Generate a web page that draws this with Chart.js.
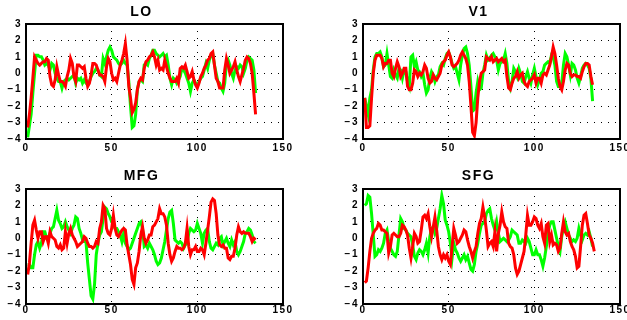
<!DOCTYPE html>
<html>
<head>
<meta charset="utf-8">
<script src="https://cdn.jsdelivr.net/npm/chart.js@4"></script>
<style>
  html, body { margin: 0; padding: 0; background: #fff; overflow: hidden; }
  body { width: 627px; height: 320px; position: relative; }
  canvas { position: absolute; }
</style>
</head>
<body>
<canvas id="lo" width="313" height="160" style="left:0;top:0"></canvas>
<canvas id="v1" width="300" height="160" style="left:337px;top:0"></canvas>
<canvas id="mfg" width="313" height="160" style="left:0;top:160px"></canvas>
<canvas id="sfg" width="300" height="160" style="left:337px;top:160px"></canvas>
<script>
"use strict";
// tick labels shared by all four panels
const xTicks = [0, 50, 100, 150];
const yTicks = [-4, -3, -2, -1, 0, 1, 2, 3];

// LO
const loGreen = [
  -3.9, -3.2, -2.5, -1.2, 0, 1.1, 1.1, 1.0, 1.0, 0.8,
  0.5, 0.6, 0.5, 0.2, 0.6, 0.5, 0, -0.3, -0.5, -0.5,
  -0.9, -0.5, -0.4, -0.3, -0.4, -0.3, -0.2, -0.1, -0.6, -0.3,
  -0.4, -0.3, -0.6, -0.4, -0.6, -0.7, -0.5, -0.2, 0, 0.1,
  0.3, 0.2, -0.1, -0.2, 0.9, 0.6, 1.0, 1.4, 1.6, 1.4,
  1.0, 0.9, 0.8, 0.6, 0.5, 0.6, 0.8, 0.6, 0.5, -0.5,
  -2.0, -3.3, -3.2, -2.5, -1.0, -0.5, -0.4, -0.5, 0.5, 0.6,
  0.5, 0.9, 1.1, 1.4, 1.4, 1.2, 1.1, 1.0, 1.1, 1.2,
  1.0, 1.1, 0.5, -0.3, -0.7, -0.3, -0.4, -0.6, -0.4, -0.2,
  0.3, 0.2, 0, -0.3, -0.6, -1.1, -0.6, -0.4, -0.6, -0.8,
  -0.5, -0.3, -0.2, 0.2, 0.6, 0.3, 0.8, 1.1, 1.2, 0.5,
  0, -0.5, -0.6, -0.9, -1.1, -0.6, 0.6, 0.8, 0.5, 0,
  -0.3, 0.2, 0.4, 0.3, 0.5, 0.4, 0, 0.3, 0.8, 1.0,
  0.9, 0.8, 0.2, -1.2
];
const loRed = [
  -3.3, -2.5, -1.5, -0.3, 1.0, 0.8, 0.6, 0.5, 0.6, 0.7,
  0.7, 0.9, 0.8, -0.2, -0.7, -0.8, -0.4, 0.4, -0.1, -0.5,
  -0.5, -0.6, -0.8, -0.2, 0.2, 0.9, 0.6, -0.2, -0.5, 0.5,
  0.5, 0.4, 0.3, 0.4, -0.3, -0.8, -0.6, -0.1, 0.6, 0.6,
  0.5, 0.2, -0.1, -0.1, -0.2, -0.5, 0.4, 0.9, 0.7, 0,
  -0.4, -0.3, -0.5, 0, 0.5, 0.8, 1.2, 1.8, 0.8, -0.8,
  -1.5, -2.4, -2.2, -1.8, -1.0, -0.5, -0.3, -0.4, 0.3, 0.7,
  0.8, 1.0, 1.1, 1.3, 1.0, 0.5, 0.8, 0.2, 0.3, 0.2,
  0.8, 0.4, 0, -0.3, -0.5, -0.5, -0.5, -0.3, -0.6, 0.3,
  0.4, 0.3, 0.5, 0.1, -0.3, -0.2, 0.1, -0.4, -0.7, -0.9,
  -0.6, -0.2, 0, 0.3, 0.5, 0.8, 0.9, 1.2, 1.3, 0.5,
  -0.3, -0.5, -0.9, -0.9, -0.9, 0.2, 0.9, 0.5, 0, 0.2,
  0.4, 0.7, 0.2, -0.2, -0.5, -0.1, 0.3, 0.8, 1.0, 0.9,
  0.6, 0, -1.2, -2.5
];

// V1
const v1Green = [
  -1.5, -2.0, -2.5, -1.5, -1.0, 0.2, 1.0, 1.2, 1.2, 1.3,
  1.0, 0.4, 0.5, 1.2, 0.5, -0.2, -0.3, 0.2, -0.1, -0.3,
  0.3, 0.2, -0.3, 0.2, 0.1, -0.5, -0.8, 1.0, 1.1, 0.4,
  0.7, 0.2, 0.1, -0.2, 0, -0.7, -1.2, -1.0, -0.3, 0.1,
  -0.1, -0.5, -0.2, -0.1, 0.4, 0.6, 0.5, 0.9, 1.2, 1.3,
  1.0, 0.6, 0.3, 0.4, 0, -0.4, 0.5, 1.1, 1.5, 1.6,
  1.2, 0.5, -0.8, -2.3, -2.2, -1.2, -0.5, -1.0, -0.9, 0,
  0.5, 1.1, 0.8, 0.9, 1.1, 1.2, 1.0, 0.8, 0.2, 0.6,
  0.7, 0.8, 1.2, 0.6, -0.5, -0.9, -0.5, 0.3, 0.1, -0.2,
  0.3, 0, -0.5, -0.6, -0.2, 0.1, -0.3, -0.6, -0.1, 0.3,
  -0.2, -0.7, -0.4, 0, 0.1, 0.5, 0.6, 0.7, 0.6, 1.1,
  1.0, 0.5, -0.5, -0.8, -0.8, -0.6, 0.5, 1.2, 1.0, 0.5,
  -0.1, 0.6, 0.5, 0.2, -0.3, -0.6, -0.2, 0.3, 0.5, 0.6,
  0.5, 0.3, -0.3, -1.7
];
const v1Red = [
  -1.5, -3.3, -3.3, -3.2, -1.5, 0, 0.8, 1.1, 1.1, 1.1,
  0.9, 0.4, 0.6, 0.6, 0.8, 0.8, 0, -0.2, 0.3, 0.7,
  0.4, -0.2, 0, 0.3, 0.3, -0.8, -1.0, -1.0, -0.6, 0.2,
  0.1, -0.2, 0, -0.1, 0.1, 0.5, 0.3, -0.3, -0.6, -0.5,
  -0.1, -0.3, -0.4, -0.2, 0, 0.5, 0.7, 0.8, 1.1, 1.3,
  1.0, 0.5, 0.4, 0.5, 0.6, 0.8, 1.1, 1.3, 1.1, 0.9,
  0.5, -0.5, -2.0, -3.6, -3.8, -3.0, -1.5, -0.5, 0, 0.1,
  0.2, 1.0, 0.9, 0.8, 1.0, 0.7, 0.8, 0.9, 0.7, 0.8,
  0.9, 0.7, 0.8, -0.2, -0.9, -1.0, -0.6, -0.3, -0.2, 0.1,
  -0.3, -0.1, 0, -0.5, -0.7, -0.8, -0.5, -0.4, -0.3, -0.1,
  -0.6, -0.3, -0.3, -0.6, -0.1, 0, -0.1, 0.2, 0.5, 1.0,
  1.6, 1.2, 0.5, -0.3, -0.8, -1.0, -0.5, 0.2, 0.6, 0.5,
  0, -0.2, -0.1, -0.1, -0.2, -0.2, -0.3, 0.1, 0.4, 0.6,
  0.6, 0.5, -0.2, -0.7
];

// MFG
const mfgGreen = [
  -1.6, -1.6, -1.8, -1.8, -1.0, -0.4, -0.2, -0.6, -0.3, 0.4,
  0.4, 0, 0, 0.3, 0.6, 0.7, 1.2, 1.7, 1.1, 0.9,
  0.6, 0.7, 1.0, 0.7, 0.5, 0.3, 0.6, 0.8, 1.3, 1.2,
  0.6, 0.3, -0.1, -0.2, -0.2, -1.5, -2.5, -3.5, -3.7, -2.8,
  -1.0, -0.3, 0.2, 0.4, 1.2, 1.9, 1.8, 1.5, 1.3, 1.0,
  0.9, 0.6, 0.6, 0.4, 0.2, -0.2, 0.3, -0.3, -0.5, -0.7,
  -0.6, -0.3, 0, 0.3, 0.6, 0.9, 1.0, 0.6, -0.5, -0.4,
  -0.6, -0.3, -0.5, -0.7, -1.0, -1.4, -1.6, -1.5, -1.2, -0.7,
  -0.2, 0.5, 1.2, 1.6, 1.7, 0.9, -0.1, -0.2, -0.3, -0.2,
  -0.3, -0.6, -0.4, -0.3, 0.3, 0.6, 0.5, 0.4, 0.5, 0.9,
  0.6, 0.3, -0.3, 0.3, 0.5, 0.6, -0.2, -0.6, -0.7, -0.5,
  -0.3, -0.4, 0, 0.1, -0.4, -0.2, 0, -0.3, -0.5, -0.1,
  -0.4, -0.2, -0.8, -1.0, -0.8, -0.5, -0.2, 0.3, 0.4, 0.6,
  0.5, 0.2, -0.2, -0.3
];
const mfgRed = [
  -2.2, -1.5, -0.3, 0.8, 1.1, 0.5, 0, 0.4, 0.4, -0.2,
  0.1, 0.1, -0.3, 0.4, 0.1, 0, -0.1, -0.5, -0.6, -0.4,
  -0.7, -0.6, 0.4, -0.3, 0.3, 0.6, 0.2, 0, -0.2, -0.5,
  -0.4, -0.3, -0.2, 0.1, 0, -0.3, -0.5, -0.5, -0.6, -0.5,
  -0.2, -0.3, 0.6, 1.0, 2.0, 1.8, 0.6, 0.3, 0.2, 0.6,
  1.4, 0.6, 0.2, 0.1, 0.3, 0.5, 0.6, 0.5, -0.4, -1.0,
  -1.6, -2.5, -2.8, -1.8, -1.5, -0.8, 0.2, 0.7, 0, -0.3,
  -0.1, 0.2, 0.2, 0.7, 0.8, 1.0, 1.2, 1.8, 1.5, 1.5,
  1.3, 0.8, -0.3, -1.0, -1.4, -1.2, -0.8, -0.5, -0.6, -0.6,
  -0.7, -0.6, -0.3, 0.6, -0.5, -1.0, -0.7, -0.7, -0.5, -0.8,
  -0.8, -0.6, -0.7, -1.0, -0.3, 0.5, 1.3, 2.2, 2.4, 2.3,
  1.5, 0.2, -0.4, -0.5, -0.4, -0.6, -0.6, -1.2, -1.3, -1.1,
  -1.1, -0.6, 0.2, 0.7, 0.4, 0.3, 0.4, 0.3, 0.3, 0.3,
  0.1, -0.2, 0, -0.1
];

// SFG
const sfgGreen = [
  2.0, 2.1, 2.6, 2.5, 1.5, 0.2, -1.1, -1.0, -0.7, -0.8,
  -0.6, -0.3, 0.3, 0.5, -0.2, -0.6, -0.8, -1.0, -1.1, -0.8,
  0.2, 1.2, 1.0, 0.6, 0.5, 0.3, 0.2, 0.1, -0.4, -1.1,
  -1.3, -0.9, -0.7, -0.8, -1.0, -0.7, -0.3, -0.9, 0.1, 0.6,
  0.7, 0.3, 0.6, 1.2, 1.8, 2.6, 2.1, 1.1, 0.8, 0.4,
  -0.3, -1.2, -0.3, -0.7, -0.9, -1.2, -1.4, -1.2, -1.0, -1.3,
  -1.1, -1.5, -1.9, -2.0, -1.6, -0.8, -0.3, 0.3, 0.8, 0.9,
  1.0, 1.5, 1.7, 1.8, 1.2, 0.8, 0.5, 1.0, 0.3, -0.2,
  -0.1, 0, -0.1, -0.2, -0.1, 0.1, 0.5, 0.4, 0.3, 0.2,
  -0.3, -0.3, -0.1, -0.2, -0.3, 0, -0.2, -0.6, -1.0, -1.0,
  -0.7, -1.0, -1.0, -1.3, -1.7, -1.2, -0.5, 0.3, 0.8, 1.0,
  1.0, 0.5, 0, -0.5, -0.8, 0.1, 0.7, 1.0, 0.6, 0.2,
  0, -0.2, -0.1, -0.2, 0, 0.6, 0.2, -0.1, 0.2, 0.3,
  0.2, 0.4, 0, -0.5
];
const sfgRed = [
  -2.7, -2.6, -1.8, -0.8, 0, 0.3, 0.5, 0.6, 0.9, 0.8,
  0.5, 0.5, 0.4, 0.3, -0.9, -0.5, 0.2, 0.3, 0.2, 0.1,
  0.1, 0.3, 0.8, 0.7, 0.5, 0.2, -0.6, -1.2, -0.5, 0.3,
  0.1, -0.3, -0.2, 0.5, 1.3, 1.4, 1.2, 1.5, 0.7, 0.1,
  0.7, 1.3, 0.5, -0.5, -1.0, -1.3, -1.0, -1.2, -1.0, -1.4,
  -1.6, -0.5, 0.6, 0.2, -0.3, -0.2, 0, 0.2, 0.5, 0.4,
  -0.1, -0.5, -0.8, -1.2, -0.8, -0.5, 0.3, 0.9, 1.2, 1.9,
  1.3, 0.5, -0.5, -0.3, -0.2, -0.5, 0.4, -0.8, 0.3, 0.8,
  1.6, 1.0, 0.7, 0.6, -0.3, -0.5, -0.6, -1.0, -1.8, -2.2,
  -2.0, -1.6, -1.2, -0.8, 0.2, 1.4, 0.8, 0.8, 1.0, 1.3,
  1.2, 0.8, 0.6, 0.9, 0.1, -0.3, 0.8, 0.9, -0.2, 0.2,
  -0.4, -0.3, -0.4, -0.8, -0.6, 0.3, 1.0, 0.4, 0.2, 0.3,
  -0.2, -0.5, -0.7, -1.1, -1.8, -1.7, -0.5, 0.8, 1.4, 1.5,
  0.9, 0.2, 0, -0.3, -0.8
];

Chart.defaults.font.family = '"Liberation Sans", Arial, Helvetica, sans-serif';
Chart.defaults.color = "#000";

// matlab style wide text + full box around the axes
const stylePlugin = {
  id: "matlabStyle",
  beforeUpdate(chart) { chart.ctx.letterSpacing = "1.5px"; },
  beforeDraw(chart) { chart.ctx.letterSpacing = "1.5px"; },
  afterDraw(chart) {
    const a = chart.chartArea;
    const ctx = chart.ctx;
    const l = Math.round(a.left), t = Math.round(a.top);
    const r = Math.round(a.right), b = Math.round(a.bottom);
    ctx.save();
    ctx.setLineDash([]);
    ctx.globalAlpha = 1;
    ctx.strokeStyle = "#000000";
    ctx.lineWidth = 2;
    ctx.strokeRect(l, t, r - l, b - t);
    ctx.restore();
  },
};

function toPoints(arr) {
  return arr.map((v, i) => ({ x: i + 1, y: v }));
}

function makePanel(id, title, green, red, p) {
  const el = document.getElementById(id);
  return new Chart(el, {
    type: "line",
    data: {
      datasets: [
        { data: toPoints(green), borderColor: "#00ff00", borderWidth: 3, order: 1 },
        { data: toPoints(red), borderColor: "#ff0000", borderWidth: 3, order: 0 },
      ],
    },
    options: {
      responsive: false,
      animation: false,
      devicePixelRatio: 1,
      elements: { point: { radius: 0 }, line: { tension: 0, fill: false } },
      layout: { padding: { left: 0, right: p.right, top: 0, bottom: 0 } },
      plugins: {
        legend: { display: false },
        tooltip: { enabled: false },
        title: {
          display: true,
          text: title,
          color: "#000",
          font: { size: 14, weight: "bold" },
          padding: { top: p.titleTop, bottom: p.titleBottom },
        },
      },
      scales: {
        x: {
          type: "linear",
          min: 0,
          max: 150,
          afterBuildTicks: (axis) => { axis.ticks = xTicks.map((v) => ({ value: v })); },
          afterFit: (axis) => { axis.height = p.xHeight; },
          ticks: { font: { size: 10, weight: "bold" }, padding: p.xPad, maxRotation: 0, color: "#000" },
          grid: { color: "#000", lineWidth: 1, drawTicks: false, borderDash: [1, 6] },
          border: { display: false, dash: [1, 6] },
        },
        y: {
          min: -4,
          max: 3,
          afterBuildTicks: (axis) => { axis.ticks = yTicks.map((v) => ({ value: v })); },
          afterFit: (axis) => { axis.width = 26; },
          ticks: {
            font: { size: 10, weight: "bold" },
            padding: 4,
            color: "#000",
            callback: (v) => String(v).replace("-", "\u2212"),
          },
          grid: { color: "#000", lineWidth: 1, drawTicks: false, borderDash: [1, 6] },
          border: { display: false, dash: [1, 6] },
        },
      },
    },
    plugins: [stylePlugin],
  });
}

const topRow = { right: 30, titleTop: 3.6, titleBottom: 3.6, xHeight: 21, xPad: 3 };
const bottomRow = { right: 30, titleTop: 8, titleBottom: 4.2, xHeight: 16, xPad: 0 };

makePanel("lo", "LO", loGreen, loRed, topRow);
makePanel("v1", "V1", v1Green, v1Red, Object.assign({}, topRow, { right: 17 }));
makePanel("mfg", "MFG", mfgGreen, mfgRed, bottomRow);
makePanel("sfg", "SFG", sfgGreen, sfgRed, Object.assign({}, bottomRow, { right: 17 }));
</script>
</body>
</html>
